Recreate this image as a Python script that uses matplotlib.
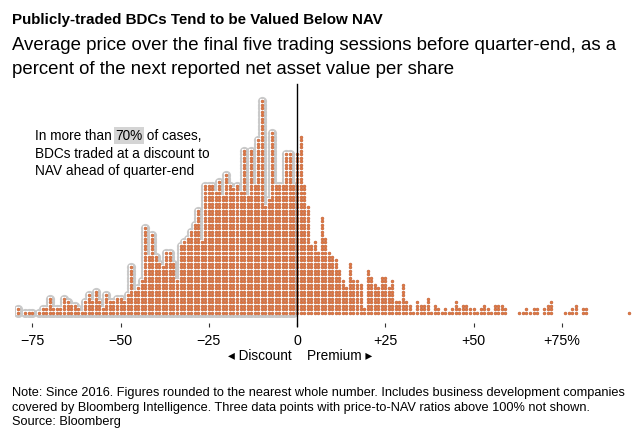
import matplotlib.pyplot as plt
import matplotlib.transforms as mtransforms

# price as % of NAV, minus 100 (one column per whole number)
price_pct = list(range(-79, 95))
counts = [
    2, 0, 1, 1, 1, 0, 1, 2, 2, 5,          # -79 .. -70
    2, 2, 2, 5, 4, 3, 3, 2, 1, 4,          # -69 .. -60
    6, 4, 7, 4, 2, 6, 4, 4, 5, 5,          # -59 .. -50
    4, 6, 14, 7, 8, 10, 25, 17, 23, 17,    # -49 .. -40
    15, 14, 18, 18, 15, 10, 20, 21, 22, 24,  # -39 .. -30
    26, 30, 21, 37, 37, 37, 35, 38, 34, 40,  # -29 .. -20
    37, 36, 37, 35, 47, 34, 47, 37, 50, 61,  # -19 .. -10
    31, 33, 52, 37, 37, 37, 46, 46, 37,      # -9 .. -1
    46,                                     # 0
    51, 37, 31, 20, 21, 18, 28, 22, 18, 17,  # 1 .. 10
    16, 13, 10, 8, 15, 10, 10, 9, 2, 13,     # 11 .. 20
    11, 9, 8, 11, 11, 8, 10, 4, 4, 9,        # 21 .. 30
    4, 3, 1, 4, 3, 3, 5, 1, 3, 2,            # 31 .. 40
    1, 2, 1, 2, 4, 2, 3, 3, 2, 2,            # 41 .. 50
    1, 2, 3, 2, 1, 3, 3, 3, 2, 0,            # 51 .. 60
    0, 0, 1, 1, 2, 1, 2, 2, 0, 2,            # 61 .. 70
    3, 4, 0, 0, 0, 1, 1, 2, 3, 0,            # 71 .. 80
    2, 2, 0, 0, 0, 0, 0, 0, 0, 0,            # 81 .. 90
    0, 0, 0, 1,                              # 91 .. 94
]
tick_vals = [-75, -50, -25, 0, 25, 50, 75]
tick_labels = ['\u221275', '\u221250', '\u221225', '0', '+25', '+50', '+75%']

xs, ys, disc_x, disc_y = [], [], [], []
for v, n in zip(price_pct, counts):
    for k in range(n):
        xs.append(v)
        ys.append(k)
        if v < 0:
            disc_x.append(v)
            disc_y.append(k)

plt.rcParams['font.family'] = ['Liberation Sans', 'DejaVu Sans']

W, H = 640, 439
fig = plt.figure(figsize=(6.4, 4.39), dpi=100)
ax = fig.add_axes([15 / W, 1 - 318 / H, 617 / W, 223 / H])

pitch = 3.53
ax.set_xlim((15 - 297) / pitch, (632 - 297) / pitch)
ax.set_ylim(-4 / pitch, -4 / pitch + 223 / pitch)

# grey halo around the discount side, white fill inside it, then the dots
ax.scatter(disc_x, disc_y, s=44, color='#c9c9c9', linewidths=0, zorder=1)
ax.scatter(disc_x, disc_y, s=6.0, marker='s', color='white', linewidths=0, zorder=2)
ax.scatter(xs, ys, s=4.5, color='#e27a45', edgecolors='#b3532a', linewidths=0.3, zorder=3)

ax.axvline(0, ymin=-0.04, ymax=1.045, color='black', lw=1, clip_on=False, zorder=4)

for s in ['top', 'right', 'left']:
    ax.spines[s].set_visible(False)
ax.spines['bottom'].set_position(('outward', 4.3))
ax.spines['bottom'].set_visible(False)
ax.set_yticks([])
ax.set_xticks(tick_vals)
ax.set_xticklabels(tick_labels, fontsize=10.3, color='black')
ax.tick_params(axis='x', length=3, width=0.8, color='#333333', pad=4)

# titles
fig.text(12 / W, 1 - 24 / H, 'Publicly-traded BDCs Tend to be Valued Below NAV',
         fontsize=10.9, fontweight='bold', va='baseline')
fig.text(12 / W, 1 - 50 / H,
         'Average price over the final five trading sessions before quarter-end, as a',
         fontsize=13.4, va='baseline')
fig.text(12 / W, 1 - 74 / H,
         'percent of the next reported net asset value per share',
         fontsize=13.4, va='baseline')

# annotation
renderer = fig.canvas.get_renderer()
t1 = fig.text(35 / W, 1 - 140.5 / H, 'In more than ', fontsize=9.8, va='baseline')
t2 = fig.text(1, 0, '70%', fontsize=9.8, va='bottom',
              transform=mtransforms.BboxTransformTo(t1.get_window_extent(renderer)),
              bbox=dict(facecolor='#d4d4d4', edgecolor='none', pad=1.0))
t3 = fig.text(1, 0, ' of cases,', fontsize=9.8, va='bottom',
              transform=mtransforms.BboxTransformTo(t2.get_window_extent(renderer)))
fig.text(35 / W, 1 - 158 / H, 'BDCs traded at a discount to', fontsize=9.8, va='baseline')
fig.text(35 / W, 1 - 175.5 / H, 'NAV ahead of quarter-end', fontsize=9.8, va='baseline')

# direction labels
ax.text(-1.5, -12.0, '\u25c2 Discount', fontsize=9.8, ha='right', va='center')
ax.text(2.7, -12.0, 'Premium \u25b8', fontsize=9.8, ha='left', va='center')

# footer
fig.text(12 / W, 1 - 396 / H,
         'Note: Since 2016. Figures rounded to the nearest whole number. Includes business development companies',
         fontsize=9.2, va='baseline')
fig.text(12 / W, 1 - 411 / H,
         'covered by Bloomberg Intelligence. Three data points with price-to-NAV ratios above 100% not shown.',
         fontsize=9.2, va='baseline')
fig.text(12 / W, 1 - 425 / H, 'Source: Bloomberg', fontsize=9.2, va='baseline')

fig.savefig('out.png', dpi=100)
